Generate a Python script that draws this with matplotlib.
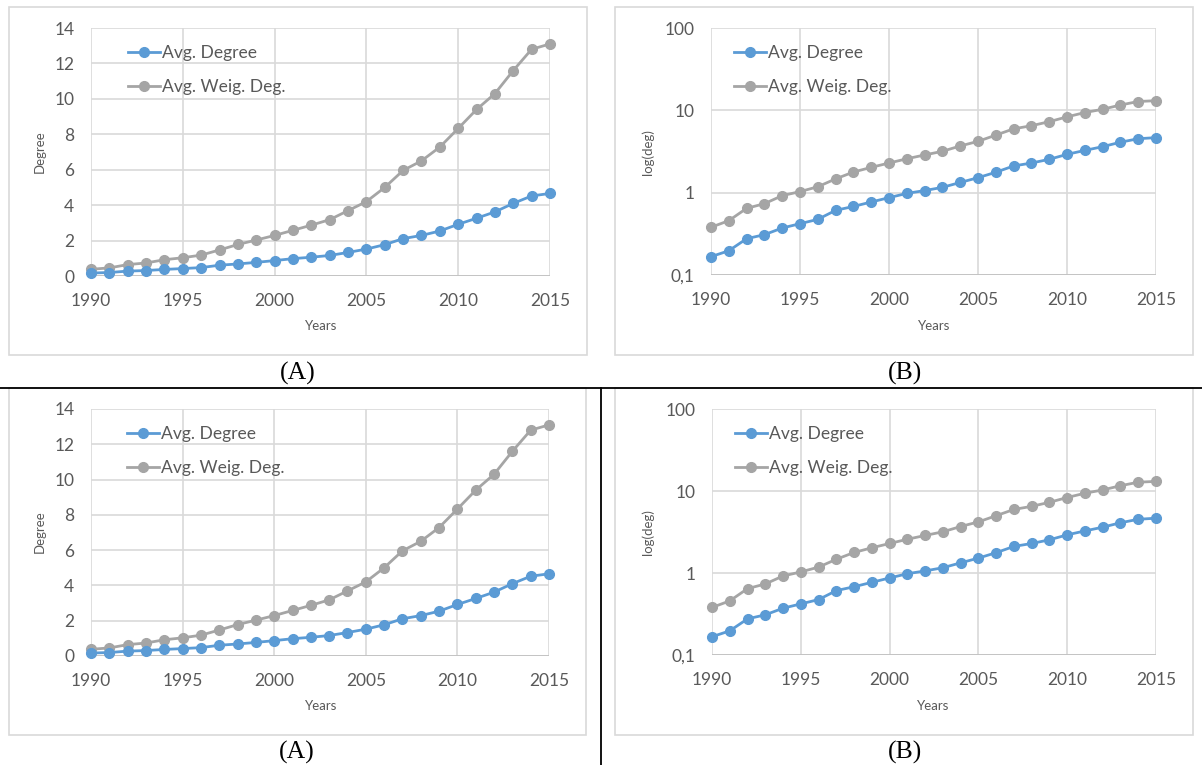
import numpy as np
import matplotlib.pyplot as plt
from matplotlib.patches import Rectangle
from matplotlib.lines import Line2D
from matplotlib.ticker import FixedLocator, NullLocator

W, H = 1202, 765

years = list(range(1990, 2016))
avg_degree = [0.167, 0.197, 0.276, 0.309, 0.372, 0.42, 0.474, 0.61, 0.68, 0.77,
              0.87, 0.98, 1.06, 1.16, 1.33, 1.52, 1.77, 2.11, 2.29, 2.54,
              2.92, 3.26, 3.62, 4.1, 4.52, 4.66]
avg_weig_deg = [0.38, 0.457, 0.645, 0.735, 0.92, 1.03, 1.18, 1.47, 1.78, 2.03,
                2.29, 2.58, 2.87, 3.18, 3.69, 4.2, 5.0, 5.96, 6.5, 7.28,
                8.33, 9.4, 10.3, 11.6, 12.8, 13.1]
series_names = ["Avg. Degree", "Avg. Weig. Deg."]
x_ticks = [1990, 1995, 2000, 2005, 2010, 2015]
lin_ticks = [0, 2, 4, 6, 8, 10, 12, 14]
log_ticks = [0.1, 1, 10, 100]
log_labels = ["0,1", "1", "10", "100"]

BLUE = "#5B9BD5"
GRAY = "#A5A5A5"
GRID = "#D9D9D9"
TXT = "#595959"
FONT = "Lato"

plt.rcParams['font.family'] = [FONT, 'DejaVu Sans']

fig = plt.figure(figsize=(W / 100, H / 100), dpi=100)


def px_rect(l, t, r, b):
    return [l / W, 1 - b / H, (r - l) / W, (b - t) / H]


def panel(plot_px, box_px, log, caption, cap_xy, ylab, ylab_xy, xlab_xy, leg_xy):
    # chart frame
    l, t, r, b = box_px
    fig.patches.append(Rectangle((l / W, 1 - b / H), (r - l) / W, (b - t) / H,
                                 transform=fig.transFigure, fill=False,
                                 edgecolor=GRID, lw=1.2))
    ax = fig.add_axes(px_rect(*plot_px))
    for s in ax.spines.values():
        s.set_visible(False)
    ax.plot(years, avg_degree, "-o", color=BLUE, lw=2, ms=7,
            clip_on=False, zorder=4)
    ax.plot(years, avg_weig_deg, "-o", color=GRAY, lw=2, ms=7,
            clip_on=False, zorder=3)
    ax.set_xlim(1990, 2015)
    ax.xaxis.set_major_locator(FixedLocator(x_ticks))
    if log:
        ax.set_yscale("log")
        ax.set_ylim(0.1, 100)
        ax.yaxis.set_major_locator(FixedLocator(log_ticks))
        ax.set_yticklabels(log_labels)
        ax.yaxis.set_minor_locator(NullLocator())
    else:
        ax.set_ylim(0, 14)
        ax.yaxis.set_major_locator(FixedLocator(lin_ticks))
    ax.grid(True, color=GRID, lw=1.2, zorder=0)
    ax.set_axisbelow(True)
    ax.axhline(ax.get_ylim()[0], color="#BFBFBF", lw=1.2, zorder=1)
    ax.tick_params(length=0, pad=12, labelsize=12.5, colors=TXT)
    fig.text(ylab_xy[0] / W, 1 - ylab_xy[1] / H, ylab, rotation=90,
             ha="center", va="center", fontsize=9.5, color=TXT)
    fig.text(xlab_xy[0] / W, 1 - xlab_xy[1] / H, "Years",
             ha="center", va="center", fontsize=9.5, color=TXT)
    fig.text(cap_xy[0] / W, 1 - cap_xy[1] / H, caption, ha="center",
             va="center", fontsize=18.5, family="Liberation Serif", color="black")
    handles = [Line2D([], [], color=BLUE, lw=2, marker="o", ms=7),
               Line2D([], [], color=GRAY, lw=2, marker="o", ms=7)]
    ax.legend(handles, series_names, loc="upper left",
              bbox_to_anchor=(leg_xy[0] / W, 1 - leg_xy[1] / H),
              bbox_transform=fig.transFigure, frameon=False,
              fontsize=12.6, labelcolor=TXT, handlelength=1.8,
              handletextpad=0.15, labelspacing=1.05, borderpad=0,
              borderaxespad=0)
    return ax


# top row
panel((91, 28, 550, 276), (9, 7, 587, 355), False, "(A)", (298, 373),
      "Degree", (40, 152), (321, 326), (128, 45))
panel((711, 28, 1156, 275), (615, 7, 1193, 355), True, "(B)", (905, 373),
      "log(deg)", (648, 152), (934, 326), (734, 45))
# bottom row
panel((91, 409, 549, 656), (9, 388, 586, 735), False, "(A)", (297, 752),
      "Degree", (40, 532), (321, 706), (127, 426))
panel((712, 409, 1156, 655), (615, 388, 1193, 735), True, "(B)", (905, 752),
      "log(deg)", (648, 532), (933, 706), (735, 426))

# separator lines
fig.add_artist(Line2D([0, 1], [1 - 387.5 / H, 1 - 387.5 / H],
                      transform=fig.transFigure, color="black", lw=1.3))
fig.add_artist(Line2D([601 / W, 601 / W], [0, 1 - 387.5 / H],
                      transform=fig.transFigure, color="black", lw=1.3))

fig.savefig("out.png", dpi=100)
